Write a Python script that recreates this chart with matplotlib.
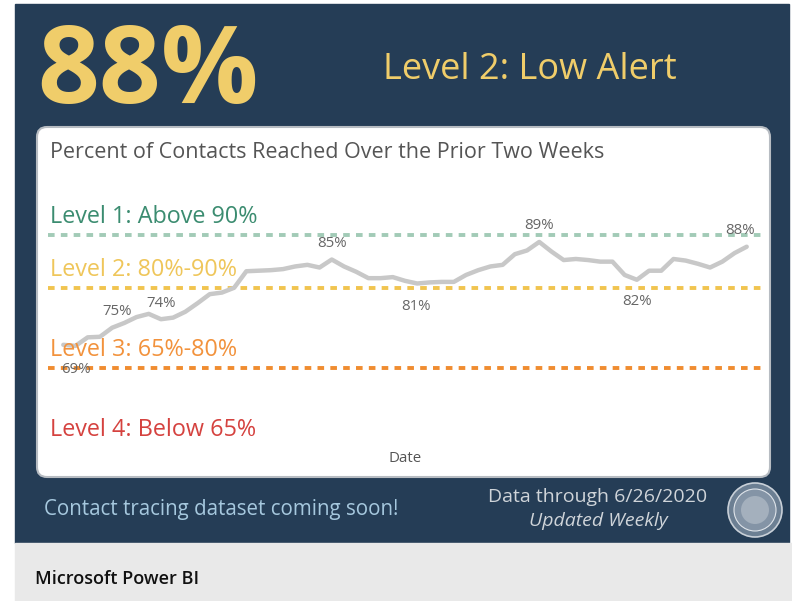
import numpy as np
import pandas as pd
import matplotlib
matplotlib.use("Agg")
import matplotlib.pyplot as plt
import matplotlib.transforms as mtransforms
from matplotlib.patches import Rectangle, FancyBboxPatch, Circle

# data
pct_reached = [69.4, 69.2, 70.8, 70.9, 72.6, 73.5, 74.6, 75.2, 74.2, 74.5,
               75.6, 77.2, 78.9, 79.2, 80.1, 83.2, 83.3, 83.4, 83.6, 84.1,
               84.4, 83.9, 85.4, 84.1, 83.1, 81.9, 81.9, 82.1, 81.4, 80.9,
               81.1, 81.2, 81.2, 82.5, 83.4, 84.1, 84.4, 86.4, 87.1, 88.7,
               86.9, 85.3, 85.5, 85.3, 85.0, 85.0, 82.5, 81.6, 83.3, 83.3,
               85.5, 85.2, 84.6, 83.9, 85.0, 86.6, 87.8]
dates = pd.date_range(end="2020-06-26", periods=len(pct_reached), freq="D")

level_names = ["Level 1: Above 90%", "Level 2: 80%-90%", "Level 3: 65%-80%", "Level 4: Below 65%"]
level_values = [90, 80, 65, 50]
level_text_colors = ["#3b8c70", "#efc65a", "#f2923c", "#d5423f"]
level_line_colors = ["#a2cbb7", "#f1c44f", "#f08c30", None]

# which points get a value label, and where the label sits (pixels)
label_idx = [0, 7, 8, 22, 29, 39, 47, 56]
label_off = [(13, -25), (-32, 2), (0, 16), (0, 16), (-1, -23), (0, 16), (0, -22), (-7, 16)]

current_value = "88%"
current_level = "Level 2: Low Alert"
gold = "#f0cd6a"
navy = "#253d56"

W, H = 792, 601
fig = plt.figure(figsize=(W / 100, H / 100), dpi=100)
plt.rcParams['font.family'] = ['Open Sans', 'DejaVu Sans']

# background axes in pixel coordinates
bg = fig.add_axes([0, 0, 1, 1])
bg.set_xlim(0, W)
bg.set_ylim(H, 0)
bg.axis("off")
bg.add_patch(Rectangle((15, 4), 774, 539, color=navy, zorder=0))
bg.add_patch(Rectangle((15, 543), W - 15, H - 543, color="#e9e9e9", zorder=0))
bg.add_patch(FancyBboxPatch((37, 127), 733, 350, boxstyle="round,pad=0,rounding_size=10",
                            facecolor="white", edgecolor="#b7bcc2", linewidth=1.5, zorder=1))

bg.text(37, 75, current_value, color=gold, fontsize=78, fontweight="bold", va="center", ha="left")
bg.text(383, 70, current_level, color=gold, fontsize=26, va="center", ha="left")
bg.text(50, 152, "Percent of Contacts Reached Over the Prior Two Weeks", color="#555555",
        fontsize=15.5, va="center", ha="left", zorder=3)
bg.text(44, 509, "Contact tracing dataset coming soon!", color="#a6c8de", fontsize=14.8,
        va="center", ha="left")
bg.text(598, 497, "Data through 6/26/2020", color="#cfd4d9", fontsize=14, va="center", ha="center")
bg.text(598, 521, "Updated Weekly", color="#cfd4d9", fontsize=14, style="italic",
        va="center", ha="center")
bg.text(35, 579, "Microsoft Power BI", color="#111111", fontsize=13, fontweight="semibold",
        va="center", ha="left")

# city seal, roughly
bg.add_patch(Circle((755, 510), 27, facecolor="#6c7f93", edgecolor="#c9d0d8", linewidth=1.2, zorder=2))
bg.add_patch(Circle((755, 510), 21, facecolor="#8494a6", edgecolor="#dfe4ea", linewidth=0.8, zorder=2))
bg.add_patch(Circle((755, 510), 14, facecolor="#a4b0bd", edgecolor="none", zorder=2))

# chart axes
left, right, top, bottom = 48, 763, 170, 445
ax = fig.add_axes([left / W, 1 - bottom / H, (right - left) / W, (bottom - top) / H])
ax.patch.set_alpha(0)
for s in ax.spines.values():
    s.set_visible(False)
ax.set_xticks([])
ax.set_yticks([])

step = 683.4 / (len(pct_reached) - 1)
x0 = dates[0] - pd.Timedelta(days=(63.3 - left) / step)
x1 = dates[-1] + pd.Timedelta(days=(right - 746.7) / step)
ax.set_xlim(x0, x1)
ax.set_ylim(80 - (bottom - 288.3) / 5.33, 80 + (288.3 - top) / 5.33)

for val, c in zip(level_values, level_line_colors):
    if c is not None:
        ax.axhline(val, color=c, linewidth=2.8, linestyle=(0, (1.7, 1.6)), zorder=1)

ax.plot(dates, pct_reached, color="#c8c8c8", linewidth=3.2, solid_joinstyle="round",
        solid_capstyle="round", zorder=2)

trans = mtransforms.blended_transform_factory(ax.transAxes, ax.transData)
for name, val, c in zip(level_names, level_values, level_text_colors):
    ax.text(2 / (right - left), val + 3.4, name, color=c, fontsize=16.8, va="center", ha="left",
            transform=trans)

for i, (dx, dy) in zip(label_idx, label_off):
    ax.annotate(f"{round(pct_reached[i])}%", (dates[i], pct_reached[i]), xytext=(dx, dy),
                textcoords="offset pixels", ha="center", va="center", color="#666666",
                fontsize=10.8, zorder=3)

bg.text(405, 459, "Date", color="#555555", fontsize=10.8, va="center", ha="center", zorder=3)

fig.savefig("out.png", dpi=100)
